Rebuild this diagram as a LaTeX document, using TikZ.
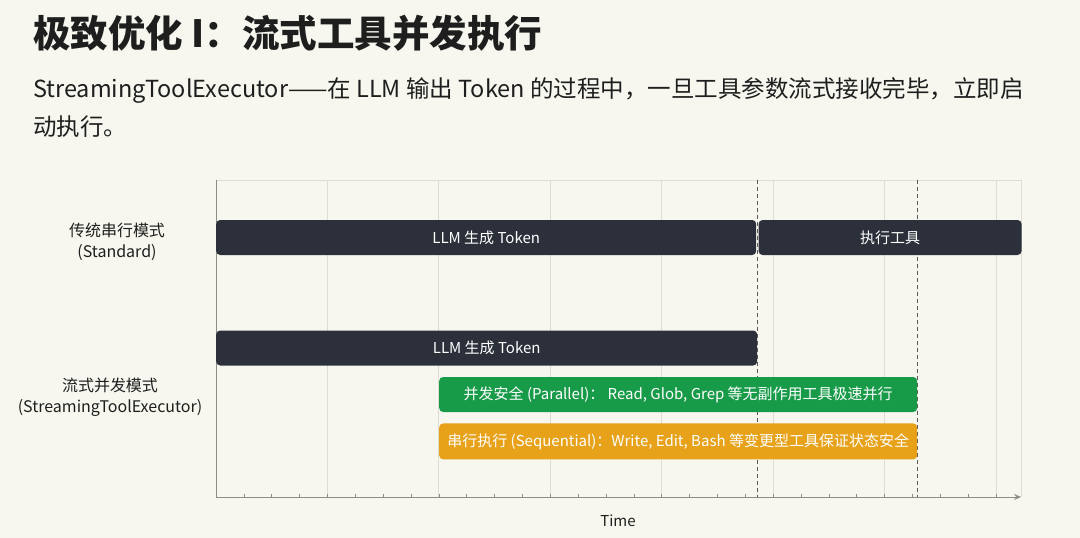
\documentclass[tikz,border=0pt]{standalone}
\usepackage{fontspec}
\setmainfont{Noto Sans CJK SC}
\usepackage{xcolor}
\usepackage{tikz}
\usetikzlibrary{arrows.meta, positioning}
\definecolor{bgcolor}{HTML}{F7F7F0}
\definecolor{inkcolor}{HTML}{1E1E1E}
\definecolor{barcolor}{HTML}{2B303A}
\definecolor{parcolor}{HTML}{189B48}
\definecolor{seqcolor}{HTML}{E8A219}
\definecolor{gridcolor}{HTML}{DDDDD5}
\definecolor{axiscolor}{HTML}{8C8C88}
\definecolor{markcolor}{HTML}{5A5A5A}

\begin{document}
\begin{tikzpicture}[
    x=1pt, y=-1pt,
    bar/.style={rectangle, fill=#1, rounded corners=4pt, minimum height=35pt, inner sep=0pt, text=white, font=\fontsize{15}{18}\selectfont, anchor=west},
    rowlabel/.style={align=center, font=\fontsize{16}{21}\selectfont, text=inkcolor},
    grid/.style={gridcolor, line width=0.8pt},
    axis/.style={axiscolor, line width=1pt},
    marker/.style={markcolor, dashed, dash pattern=on 4pt off 3pt, line width=0.9pt},
    tick/.style={axiscolor, line width=0.7pt},
  ]
  \fill[bgcolor] (0,0) rectangle (1080,538);
  \useasboundingbox (0,0) rectangle (1080,538);

  % heading
  \node[anchor=west, font=\fontsize{37.5}{42}\selectfont\bfseries, text=inkcolor, inner sep=0pt] (title) at (33,33) {极致优化 I：流式工具并发执行};
  \node[anchor=west, font=\fontsize{23.5}{28}\selectfont, text=inkcolor, inner sep=0pt] (sub1) at (33,90) {StreamingToolExecutor——在 LLM 输出 Token 的过程中，一旦工具参数流式接收完毕，立即启};
  \node[anchor=west, font=\fontsize{23.5}{28}\selectfont, text=inkcolor, inner sep=0pt] (sub2) at (33,127) {动执行。};

  % chart frame and grid
  \coordinate (origin) at (216,497);
  \coordinate (top) at (216,180);
  \coordinate (corner) at (1021,180);
  \coordinate (tip) at (1021,497);
  \draw[grid] (top) -- (corner) -- (tip);
  \foreach \i in {1,...,7}
    \draw[grid] (216+\i*111.43,180) -- (216+\i*111.43,497);
  \foreach \i in {1,...,28}
    \draw[tick] (216+\i*27.857,497) -- (216+\i*27.857,494);

  % time markers
  \coordinate (m1top) at (757,180);
  \coordinate (m1bot) at (757,497);
  \coordinate (m2top) at (917,180);
  \coordinate (m2bot) at (917,497);
  \draw[marker] (m1top) -- (m1bot);
  \draw[marker] (m2top) -- (m2bot);

  \draw[axis] (top) -- (origin);
  \draw[axis, -{Stealth[length=7pt, width=6pt]}] (origin) -- (tip);
  \node[font=\fontsize{15}{18}\selectfont, text=inkcolor] (time) at (618,521) {Time};

  % standard mode
  \node[bar=barcolor, minimum width=540pt] (llmA) at (216,237.5) {LLM 生成 Token};
  \node[bar=barcolor, minimum width=263pt, right=2pt of llmA] (exec) {执行工具};
  \node[rowlabel] (stdlbl) at (117,242) {传统串行模式\\(Standard)};

  % streaming mode
  \node[bar=barcolor, minimum width=541pt] (llmB) at (216,348) {LLM 生成 Token};
  \node[bar=parcolor, minimum width=478pt] (par) at (439,394.5) {并发安全 (Parallel)： Read, Glob, Grep 等无副作用工具极速并行};
  \node[bar=seqcolor, minimum width=478pt, minimum height=36pt, below=11pt of par.south west, anchor=north west] (seq) {串行执行 (Sequential)：Write, Edit, Bash 等变更型工具保证状态安全};
  \node[rowlabel] (strlbl) at (110,397) {流式并发模式\\(StreamingToolExecutor)};
\end{tikzpicture}
\end{document}
